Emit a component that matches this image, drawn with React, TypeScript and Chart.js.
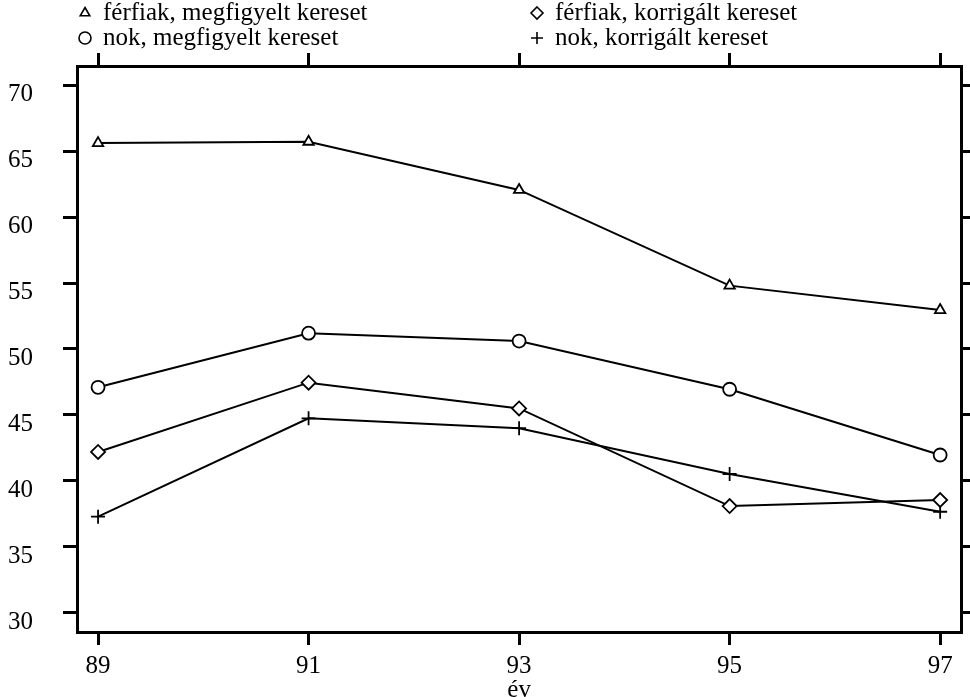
import React, { useEffect, useRef } from "react";
import { Chart, registerables } from "chart.js";

Chart.register(...registerables);

const years = [89, 91, 93, 95, 97];
const yTickValues = [30, 35, 40, 45, 50, 55, 60, 65, 70];
const ferfiakMegfigyelt = [65.6, 65.7, 62.05, 54.8, 52.95];
const nokMegfigyelt = [47.1, 51.2, 50.6, 46.95, 41.97];
const ferfiakKorrigalt = [42.2, 47.45, 45.5, 38.1, 38.56];
const nokKorrigalt = [37.3, 44.75, 44.0, 40.53, 37.67];
const labels = [
  "férfiak, megfigyelt kereset",
  "nok, megfigyelt kereset",
  "férfiak, korrigált kereset",
  "nok, korrigált kereset",
];

const FONT = "'Liberation Serif', 'DejaVu Serif', serif";

function drawMarker(ctx: CanvasRenderingContext2D, style: string, x: number, y: number, r: number) {
  ctx.beginPath();
  if (style === "triangle") {
    for (let i = 0; i < 3; i++) {
      const a = (i * 2 * Math.PI) / 3;
      const px = x + Math.sin(a) * r;
      const py = y - Math.cos(a) * r;
      if (i === 0) ctx.moveTo(px, py);
      else ctx.lineTo(px, py);
    }
    ctx.closePath();
    ctx.stroke();
  } else if (style === "circle") {
    ctx.arc(x, y, r, 0, Math.PI * 2);
    ctx.stroke();
  } else if (style === "rectRot") {
    ctx.moveTo(x, y - r);
    ctx.lineTo(x + r, y);
    ctx.lineTo(x, y + r);
    ctx.lineTo(x - r, y);
    ctx.closePath();
    ctx.stroke();
  } else if (style === "cross") {
    ctx.moveTo(x - r, y);
    ctx.lineTo(x + r, y);
    ctx.moveTo(x, y - r);
    ctx.lineTo(x, y + r);
    ctx.stroke();
  }
}

const legendPlugin = {
  id: "gridLegend",
  afterDraw(chart: any) {
    const ctx: CanvasRenderingContext2D = chart.ctx;
    const colX = [85, 537];
    const markY = [13, 38];
    const textY = [20, 45];
    const sizes: Record<string, number> = { triangle: 5.5, circle: 6, rectRot: 6, cross: 6 };
    ctx.save();
    ctx.strokeStyle = "#000";
    ctx.fillStyle = "#000";
    ctx.lineWidth = 1.6;
    ctx.font = `25px ${FONT}`;
    ctx.textBaseline = "alphabetic";
    ctx.textAlign = "left";
    chart.data.datasets.forEach((ds: any, i: number) => {
      const col = i < 2 ? 0 : 1;
      const row = i % 2;
      drawMarker(ctx, ds.pointStyle, colX[col], markY[row], sizes[ds.pointStyle]);
      ctx.fillText(ds.label, colX[col] + 18, textY[row]);
    });
    ctx.restore();
  },
};

export default function App() {
  const ref = useRef<HTMLCanvasElement | null>(null);
  useEffect(() => {
    document.body.style.margin = "0";
    if (!ref.current) return;
    const mk = (label: string, data: number[], style: string, r: number) => ({
      label,
      data: years.map((x, i) => ({ x, y: data[i] })),
      borderColor: "#000",
      borderWidth: 2,
      pointStyle: style,
      pointRadius: r,
      pointBorderWidth: 1.8,
      pointBorderColor: "#000",
      pointBackgroundColor: "#fff",
      fill: false,
      tension: 0,
    });
    const tickFont = { family: FONT, size: 25 };
    const gridOpts = {
      drawOnChartArea: false,
      drawTicks: true,
      tickLength: 13,
      lineWidth: 3,
      color: "#000",
    };
    const borderOpts = { display: true, width: 3, color: "#000" };
    const xTicks = (s: any) => {
      s.ticks = years.map((v) => ({ value: v }));
    };
    const yTicks = (s: any) => {
      s.ticks = yTickValues.map((v) => ({ value: v }));
    };
    const chart = new Chart(ref.current, {
      type: "line",
      data: {
        datasets: [
          mk(labels[0], ferfiakMegfigyelt, "triangle", 6),
          mk(labels[1], nokMegfigyelt, "circle", 6.5),
          mk(labels[2], ferfiakKorrigalt, "rectRot", 7),
          mk(labels[3], nokKorrigalt, "cross", 7),
        ],
      },
      options: {
        animation: false,
        responsive: false,
        devicePixelRatio: 1,
        layout: { padding: 0 },
        plugins: { legend: { display: false }, tooltip: { enabled: false } },
        scales: {
          x: {
            type: "linear",
            position: "bottom",
            min: 88.8,
            max: 97.2,
            afterBuildTicks: xTicks,
            afterFit: (s: any) => {
              s.height = 65;
            },
            grid: gridOpts,
            border: borderOpts,
            ticks: { font: tickFont, color: "#000", padding: 6, maxRotation: 0, autoSkip: false },
            title: {
              display: true,
              text: "év",
              font: { ...tickFont, lineHeight: 1 },
              color: "#000",
              padding: -6,
            },
          },
          x2: {
            type: "linear",
            position: "top",
            min: 88.8,
            max: 97.2,
            afterBuildTicks: xTicks,
            afterFit: (s: any) => {
              s.height = 66;
            },
            grid: gridOpts,
            border: borderOpts,
            ticks: { display: false },
          },
          y: {
            type: "linear",
            position: "left",
            min: 28.56,
            max: 71.44,
            afterBuildTicks: yTicks,
            afterFit: (s: any) => {
              s.width = 77;
            },
            grid: { ...gridOpts, tickLength: 14 },
            border: borderOpts,
            ticks: { font: tickFont, color: "#000", padding: 30, labelOffset: 9, autoSkip: false },
          },
          y2: {
            type: "linear",
            position: "right",
            min: 28.56,
            max: 71.44,
            afterBuildTicks: yTicks,
            afterFit: (s: any) => {
              s.width = 7;
            },
            grid: gridOpts,
            border: borderOpts,
            ticks: { display: false },
          },
        },
      } as any,
      plugins: [legendPlugin],
    });
    return () => chart.destroy();
  }, []);
  return (
    <div style={{ position: "absolute", left: 0, top: 0, width: 970, height: 697, background: "#fff" }}>
      <canvas ref={ref} width={970} height={697} />
    </div>
  );
}
